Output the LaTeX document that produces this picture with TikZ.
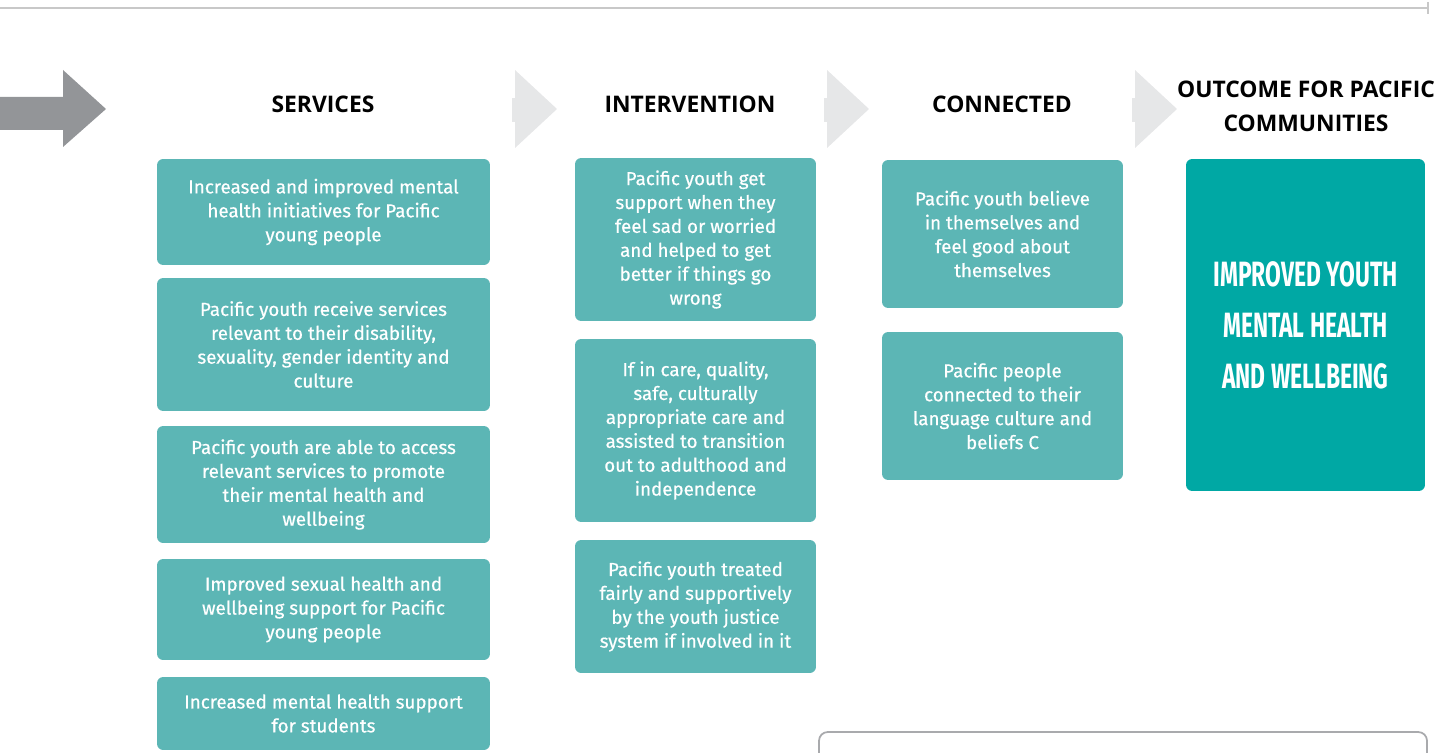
\documentclass[tikz,border=0pt]{standalone}
\usepackage{fontspec}
\setmainfont{Fira Sans}[UprightFeatures={FakeBold=0.5}]
\newfontfamily\headfont{Open Sans}
\newfontfamily\bigfont[FakeStretch=0.65]{Fira Sans}
\usetikzlibrary{positioning}

\definecolor{tealbox}{HTML}{5CB6B5}
\definecolor{tealdark}{HTML}{00A8A4}
\definecolor{arrowgrey}{HTML}{939598}
\definecolor{chevgrey}{HTML}{E6E7E8}
\definecolor{rulegrey}{HTML}{C8C8C8}

\begin{document}
\begin{tikzpicture}[
  x=0.02cm, y=-0.02cm,
  every node/.style={align=center},
  head/.style={font=\headfont\bfseries\fontsize{13}{19.5}\selectfont, text=black},
  box/.style={fill=tealbox, rounded corners=3.5pt, text=white, inner sep=0pt,
    font=\fontsize{10.7}{13.6}\selectfont},
  sbox/.style={box, minimum width=6.66cm},
  nbox/.style={box, minimum width=4.82cm},
  goal/.style={fill=tealdark, rounded corners=3.5pt, text=white, inner sep=0pt,
    minimum width=4.78cm, minimum height=6.64cm,
    font=\bigfont\bfseries\fontsize{20}{29}\selectfont}
]
\useasboundingbox (0,0) rectangle (1437,753);

% top rule
\draw[rulegrey, line width=1.6pt] (0,8) -- (1427,8);
\draw[rulegrey, line width=1pt] (1428,2) -- (1428,14);

% entry arrow
\fill[arrowgrey] (0,97) -- (63,97) -- (63,70) -- (106,109) -- (63,147) -- (63,130) -- (0,130) -- cycle;

% chevrons between columns
\foreach \cx in {512,824,1132} {
  \fill[chevgrey] (\cx,98) rectangle (\cx+4,122);
  \fill[chevgrey] (\cx+3,70) -- (\cx+45,109) -- (\cx+3,148) -- cycle;
}

% column headings
\node[head] (hserv) at (323,104) {SERVICES};
\node[head] (hint) at (690,104) {INTERVENTION};
\node[head] (hconn) at (1002,104) {CONNECTED};
\node[head] (hout) at (1306,106) {OUTCOME FOR PACIFIC\\COMMUNITIES};

% services
\node[sbox, minimum height=2.12cm] (s1) at (323.5,212) {Increased and improved mental\\health initiatives for Pacific\\young people};
\node[sbox, minimum height=2.66cm] (s2) at (323.5,344.5) {Pacific youth receive services\\relevant to their disability,\\sexuality, gender identity and\\culture};
\node[sbox, minimum height=2.34cm] (s3) at (323.5,484.5) {Pacific youth are able to access\\relevant services to promote\\their mental health and\\wellbeing};
\node[sbox, minimum height=2.02cm] (s4) at (323.5,609.5) {Improved sexual health and\\wellbeing support for Pacific\\young people};
\node[sbox, minimum height=1.46cm] (s5) at (323.5,713.5) {Increased mental health support\\for students};

% intervention
\node[nbox, minimum height=3.26cm] (i1) at (695.5,239.5) {Pacific youth get\\support when they\\feel sad or worried\\and helped to get\\better if things go\\wrong};
\node[nbox, minimum height=3.66cm] (i2) at (695.5,430.5) {If in care, quality,\\safe, culturally\\appropriate care and\\assisted to transition\\out to adulthood and\\independence};
\node[nbox, minimum height=2.66cm] (i3) at (695.5,606.5) {Pacific youth treated\\fairly and supportively\\by the youth justice\\system if involved in it};

% connected
\node[nbox, minimum height=2.96cm] (c1) at (1002.5,234) {Pacific youth believe\\in themselves and\\feel good about\\themselves};
\node[nbox, minimum height=2.96cm] (c2) at (1002.5,406) {Pacific people\\connected to their\\language culture and\\beliefs C};

% outcome
\node[goal] (out) at (1305.5,325) {IMPROVED YOUTH\\MENTAL HEALTH\\AND WELLBEING};

% empty panel, cut by the page edge
\draw[arrowgrey!80, line width=1pt, rounded corners=5pt] (819,770) -- (819,732) -- (1427,732) -- (1427,770);
\end{tikzpicture}
\end{document}
